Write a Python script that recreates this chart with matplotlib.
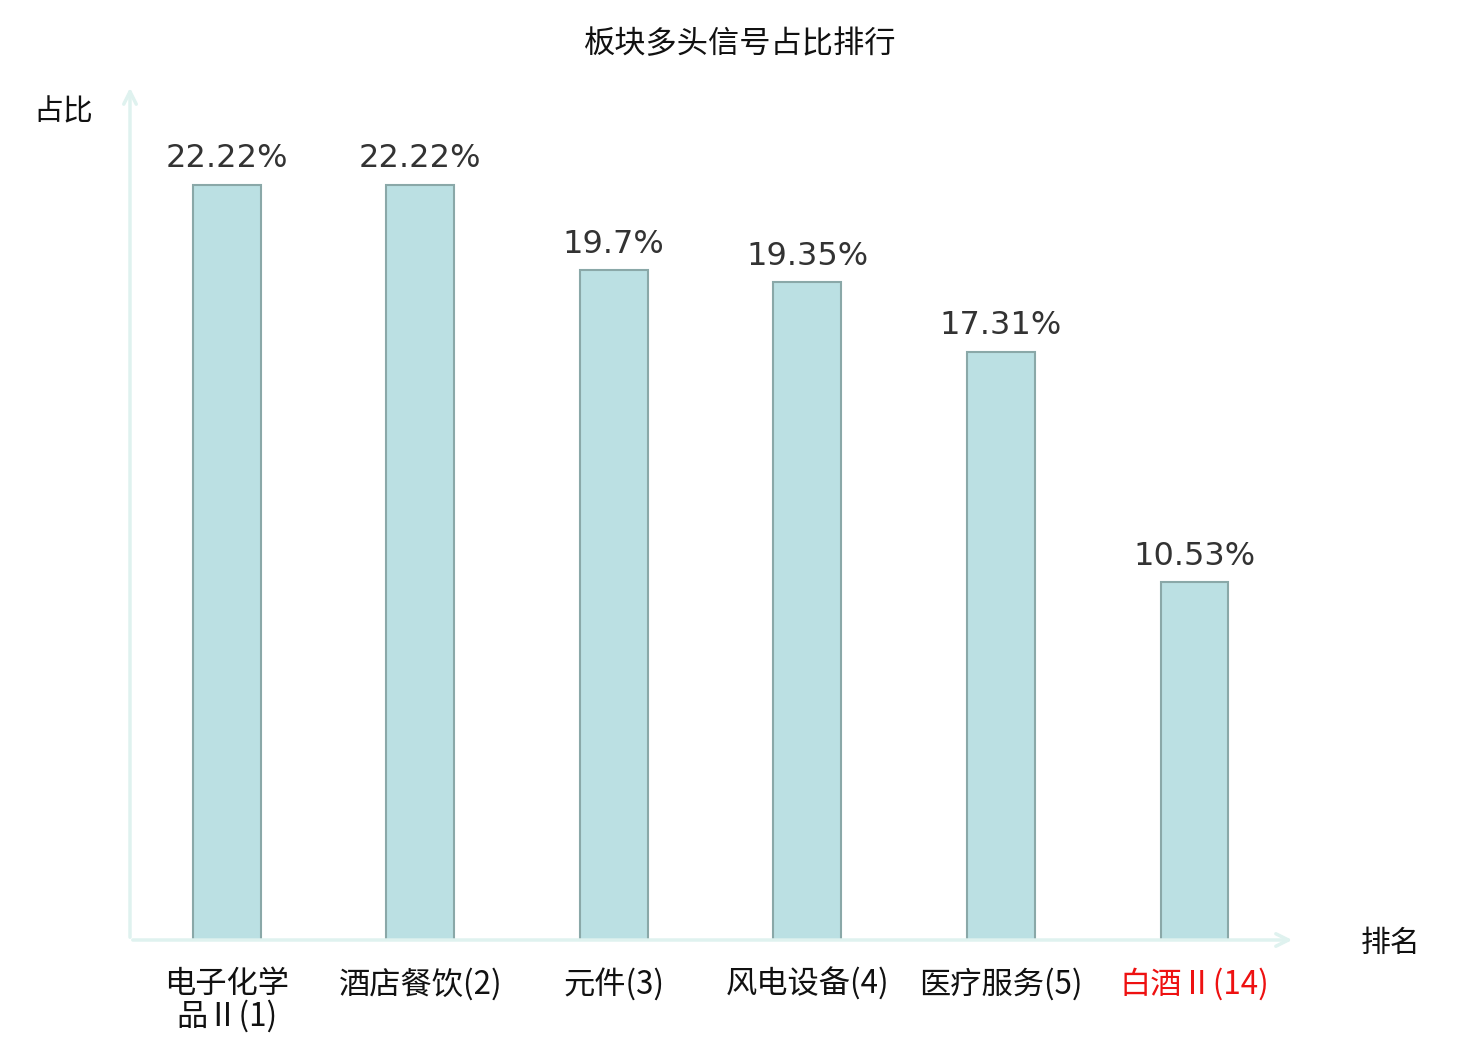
import matplotlib
matplotlib.use("Agg")
import matplotlib.pyplot as plt

plt.rcParams['font.family'] = ['Noto Sans CJK SC', 'DejaVu Sans']

title = "板块多头信号占比排行"
categories = ["电子化学\n品Ⅱ(1)", "酒店餐饮(2)", "元件(3)", "风电设备(4)", "医疗服务(5)", "白酒Ⅱ(14)"]
values = [22.22, 22.22, 19.7, 19.35, 17.31, 10.53]
value_labels = ["22.22%", "22.22%", "19.7%", "19.35%", "17.31%", "10.53%"]
label_colors = ["#111111", "#111111", "#111111", "#111111", "#111111", "#ee1111"]
y_name = "占比"
x_name = "排名"

fig = plt.figure(figsize=(14.8, 10.4), dpi=100)
ax = fig.add_axes([130/1480, 100/1040, 1165/1480, 855/1040])

x = list(range(len(values)))
ax.bar(x, values, width=0.35, color="#bbe0e3", edgecolor="#8aa8a8", linewidth=1.5, zorder=2)
for xi, v, lab in zip(x, values, value_labels):
    ax.text(xi, v + 0.3, lab, ha="center", va="bottom", fontsize=23,
            color="#333333", family=["DejaVu Sans"])

ax.set_xlim(-0.5, 5.52)
ax.set_ylim(0, 25.15)
for s in ax.spines.values():
    s.set_visible(False)
ax.set_yticks([])
ax.set_xticks(x)
ax.set_xticklabels(categories, fontsize=22.5, linespacing=1.0)
for t, c in zip(ax.get_xticklabels(), label_colors):
    t.set_color(c)
ax.tick_params(axis="x", length=0, pad=20)

axis_color = "#dff2ef"
ax.annotate("", xy=(0, 1.0), xytext=(0, 0), xycoords="axes fraction",
            arrowprops=dict(arrowstyle="->,head_length=0.9,head_width=0.45", color=axis_color, lw=2.5),
            annotation_clip=False)
ax.annotate("", xy=(1.0, 0), xytext=(0, 0), xycoords="axes fraction",
            arrowprops=dict(arrowstyle="->,head_length=0.9,head_width=0.45", color=axis_color, lw=2.5),
            annotation_clip=False)

fig.text(63/1480, 1 - 112/1040, y_name, ha="center", va="center", fontsize=21.5, color="#111111")
fig.text(1391/1480, 1 - 943/1040, x_name, ha="center", va="center", fontsize=21.5, color="#111111")
fig.text(740/1480, 1 - 44/1040, title, ha="center", va="center", fontsize=22.5, color="#111111")

fig.savefig("out.png", dpi=100)
